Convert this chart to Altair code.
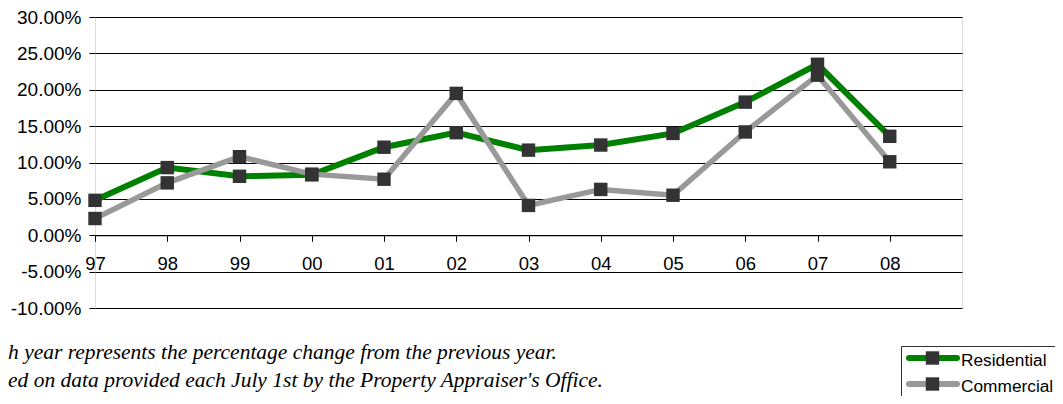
import altair as alt
import pandas as pd

# ---- data ----
years = ["97", "98", "99", "00", "01", "02", "03", "04", "05", "06", "07", "08"]
residential = [4.8, 9.3, 8.1, 8.3, 12.1, 14.1, 11.7, 12.4, 14.0, 18.3, 23.5, 13.6]
commercial = [2.3, 7.2, 10.8, 8.4, 7.7, 19.5, 4.1, 6.3, 5.5, 14.2, 22.0, 10.1]
series_names = ["Residential", "Commercial"]
series_colors = ["#008000", "#999999"]
y_ticks = [-10, -5, 0, 5, 10, 15, 20, 25, 30]
notes = [
    "h year represents the percentage change from the previous year.",
    "ed on data provided each July 1st by the Property Appraiser's Office.",
]

rows = []
for s, vals in zip(series_names, [residential, commercial]):
    for yr, v in zip(years, vals):
        rows.append({"year": yr, "series": s, "value": v / 100})
df = pd.DataFrame(rows)

W, H = 867, 291
TOP = 9
SANS = "Liberation Sans"

color_scale = alt.Scale(domain=series_names, range=series_colors)

x_enc = alt.X(
    "year:N",
    sort=years,
    scale=alt.Scale(type="point", domain=years, padding=0.5, align=0, round=False),
    axis=alt.Axis(
        title=None, labelAngle=0, offset=-H / 4, grid=False,
        domain=True, domainColor="black", domainWidth=1,
        ticks=True, tickColor="black", tickSize=6, tickWidth=1,
        labelPadding=13, labelFont=SANS, labelFontSize=18.5, labelColor="black",
    ),
)
y_enc = alt.Y(
    "value:Q",
    scale=alt.Scale(domain=[-0.10, 0.30], nice=False, zero=False),
    axis=alt.Axis(
        title=None, values=[t / 100 for t in y_ticks],
        labelExpr="replace(format(datum.value, '.2%'), '\u2212', '-')",
        grid=True, gridColor="black", gridWidth=1, gridOpacity=1,
        domain=False, ticks=True, tickColor="black", tickSize=6,
        labelPadding=8, labelFont=SANS, labelFontSize=19, labelColor="black",
    ),
)

base = alt.Chart(df).encode(x=x_enc, y=y_enc)
col = alt.Color("series:N", scale=color_scale, legend=None)

line_res = base.transform_filter(alt.datum.series == "Residential").mark_line(
    strokeWidth=6).encode(color=col)
line_com = base.transform_filter(alt.datum.series == "Commercial").mark_line(
    strokeWidth=5.5).encode(color=col)
points = base.mark_point(shape="square", filled=True, size=180,
                         color="#333333", opacity=1)

main = alt.layer(line_res, line_com, points)

# ---- legend (drawn by hand) ----
leg_df = pd.DataFrame({"series": series_names})
ly = alt.Y("series:N", sort=series_names,
           scale=alt.Scale(type="point", domain=series_names,
                           range=[350 - TOP, 376 - TOP], padding=0),
           axis=None)
box = alt.Chart(pd.DataFrame({"k": [0]})).mark_rect(
    fill="white", stroke="#333333", strokeWidth=1
).encode(x=alt.value(806.5), x2=alt.value(1300),
         y=alt.value(338.5 - TOP), y2=alt.value(600))
leg_line = alt.Chart(leg_df).mark_rule(strokeWidth=6, strokeCap="round").encode(
    x=alt.value(814), x2=alt.value(862), y=ly, color=col)
leg_sq = alt.Chart(leg_df).mark_point(shape="square", filled=True, size=180,
                                      color="#333333", opacity=1).encode(
    x=alt.value(837.5), y=ly)
leg_txt = alt.Chart(leg_df).mark_text(
    align="left", baseline="middle", dy=3, font=SANS, fontSize=17.3, color="black"
).encode(x=alt.value(866), y=ly, text="series:N")
legend = alt.layer(box, leg_line, leg_sq, leg_txt)

# ---- footnotes ----
note_df = pd.DataFrame({"note": notes})
ny = alt.Y("note:N", sort=notes,
           scale=alt.Scale(type="point", domain=notes,
                           range=[351.3 - TOP, 378.7 - TOP], padding=0),
           axis=None)
note_txt = alt.Chart(note_df).mark_text(
    align="left", baseline="alphabetic", font="Liberation Serif", fontStyle="italic",
    fontSize=21.5, color="black"
).encode(x=alt.value(-87), y=ny, text="note:N")

chart = alt.layer(main, legend, note_txt).resolve_scale(
    y="independent"
).properties(
    width=W, height=H,
    padding={"left": 87, "top": TOP, "right": 93, "bottom": 388 - TOP - H},
    autosize=alt.AutoSizeParams(type="none"),
).configure_view(stroke="black", strokeWidth=1).configure(background="white")

chart.save("out.html", embed_options={"renderer": "svg", "actions": False})
